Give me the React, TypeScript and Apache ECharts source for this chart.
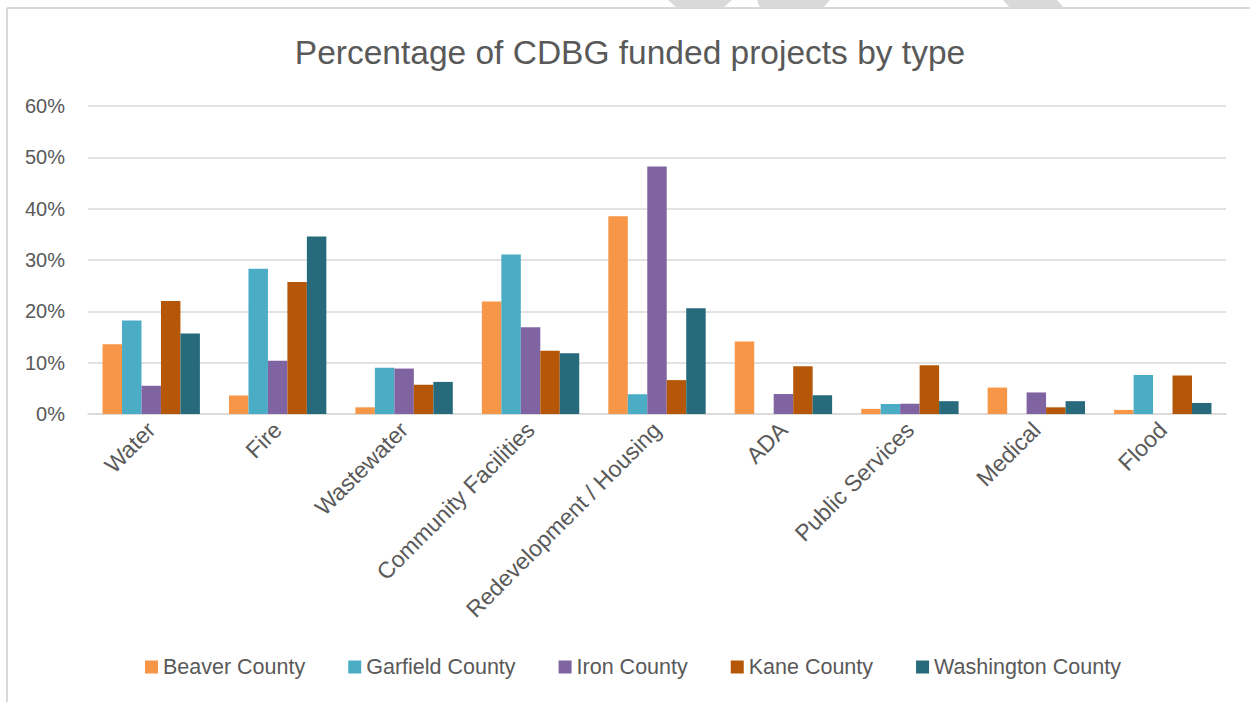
import React, { useEffect, useRef } from "react";
import * as echarts from "echarts";

const categories = [
  "Water",
  "Fire",
  "Wastewater",
  "Community Facilities",
  "Redevelopment / Housing",
  "ADA",
  "Public Services",
  "Medical",
  "Flood",
];

const seriesNames = [
  "Beaver County",
  "Garfield County",
  "Iron County",
  "Kane County",
  "Washington County",
];

const beaver = [13.6, 3.6, 1.3, 21.9, 38.5, 14.1, 1.0, 5.15, 0.8];
const garfield = [18.2, 28.3, 9.0, 31.05, 3.85, 0, 1.95, 0, 7.6];
const iron = [5.5, 10.35, 8.85, 16.9, 48.2, 3.9, 2.0, 4.2, 0];
const kane = [22.0, 25.7, 5.7, 12.3, 6.6, 9.3, 9.5, 1.3, 7.5];
const washington = [15.7, 34.6, 6.25, 11.85, 20.6, 3.65, 2.5, 2.5, 2.15];

const seriesValues = [beaver, garfield, iron, kane, washington];
const colors = ["#F79646", "#4BACC6", "#8064A2", "#B65708", "#276A7C"];

const yTicks = [0, 10, 20, 30, 40, 50, 60];

const FONT = "Liberation Sans";
const TEXT = "#595959";

export default function App() {
  const ref = useRef<HTMLDivElement>(null);

  useEffect(() => {
    if (!ref.current) return;
    const chart = echarts.init(ref.current, null, { renderer: "svg" });
    chart.setOption({
      animation: false,
      backgroundColor: "#ffffff",
      title: {
        text: "Percentage of CDBG funded projects by type",
        left: 625,
        top: 30,
        textAlign: "center",
        textStyle: {
          fontFamily: FONT,
          fontSize: 33.5,
          fontWeight: "normal",
          color: TEXT,
        },
      },
      legend: {
        bottom: 19,
        left: 140,
        itemWidth: 13,
        itemHeight: 13,
        itemGap: 43,
        icon: "rect",
        textStyle: { fontFamily: FONT, fontSize: 21.5, color: TEXT },
        data: seriesNames,
      },
      grid: {
        left: 88,
        right: 24,
        top: 106,
        bottom: 288,
        containLabel: false,
        outerBoundsMode: "none",
      },
      xAxis: {
        type: "category",
        data: categories,
        axisLine: { lineStyle: { color: "#d9d9d9", width: 1.5 } },
        axisTick: { show: false },
        axisLabel: {
          rotate: 45,
          interval: 0,
          margin: 12,
          fontFamily: FONT,
          fontSize: 23,
          color: TEXT,
        },
      },
      yAxis: {
        type: "value",
        min: yTicks[0],
        max: yTicks[yTicks.length - 1],
        interval: 10,
        axisLine: { show: false },
        axisTick: { show: false },
        splitLine: { lineStyle: { color: "#d9d9d9", width: 1.5 } },
        axisLabel: {
          margin: 23,
          fontFamily: FONT,
          fontSize: 20,
          color: TEXT,
          formatter: (v: number) => `${v}%`,
        },
      },
      series: seriesNames.map((name, i) => ({
        name,
        type: "bar",
        data: seriesValues[i],
        barGap: "0%",
        barCategoryGap: "23%",
        itemStyle: { color: colors[i] },
      })),
      graphic: [
        {
          type: "polygon",
          silent: true,
          shape: { points: [[668, 0], [732, 0], [723, 8], [677, 8]] },
          style: { fill: "#d9d9d9" },
        },
        {
          type: "polygon",
          silent: true,
          shape: { points: [[757, 0], [830, 0], [823, 8], [760, 8]] },
          style: { fill: "#d9d9d9" },
        },
        {
          type: "polygon",
          silent: true,
          shape: { points: [[1003, 0], [1057, 0], [1064, 8], [1010, 8]] },
          style: { fill: "#d9d9d9" },
        },
        {
          type: "line",
          silent: true,
          shape: { x1: 7, y1: 8, x2: 1250, y2: 8 },
          style: { stroke: "#d9d9d9", lineWidth: 2 },
        },
        {
          type: "line",
          silent: true,
          shape: { x1: 7, y1: 8, x2: 7, y2: 702 },
          style: { stroke: "#d9d9d9", lineWidth: 2 },
        },
      ],
    });
    return () => chart.dispose();
  }, []);

  return (
    <div
      ref={ref}
      style={{ position: "absolute", left: 0, top: 0, width: 1250, height: 702 }}
    />
  );
}
